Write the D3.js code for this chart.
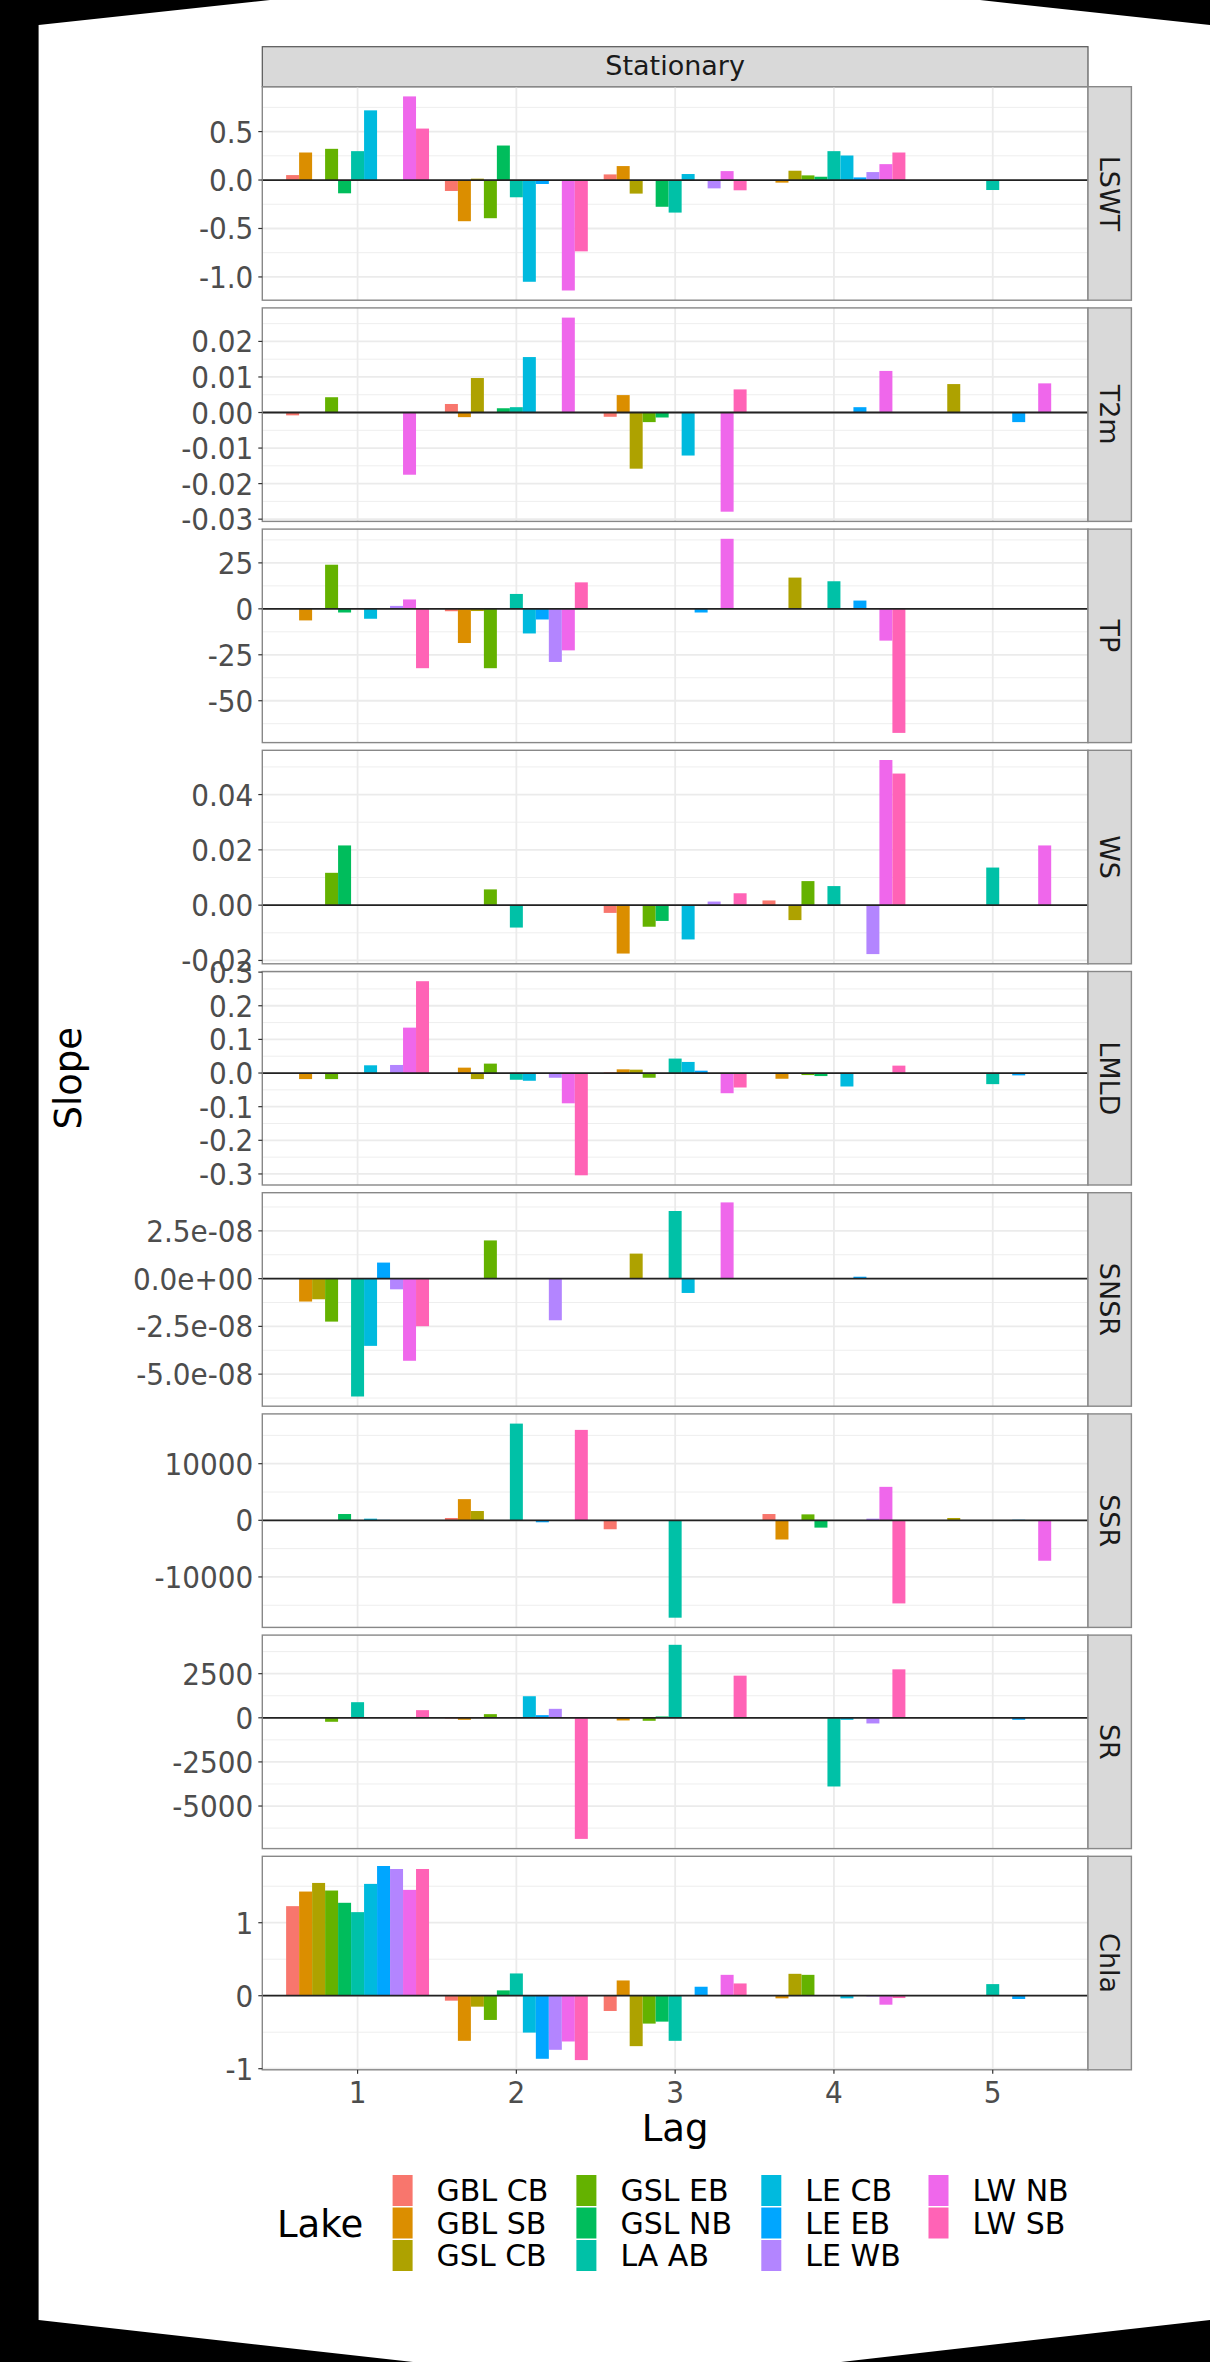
<!DOCTYPE html>
<html>
<head>
<meta charset="utf-8">
<script src="https://cdn.jsdelivr.net/npm/d3@7"></script>
<style>
  body { margin: 0; background: #000; }
  svg { display: block; }
</style>
</head>
<body>
<svg id="chart" width="1210" height="2362"></svg>
<script>
// lakes in legend / dodge order
const lakes = ['GBL CB', 'GBL SB', 'GSL CB', 'GSL EB', 'GSL NB', 'LA AB', 'LE CB', 'LE EB', 'LE WB', 'LW NB', 'LW SB']
const lakeColors = ['#F8766D', '#DB8E00', '#AEA200', '#64B200', '#00BD5C', '#00C1A7', '#00BADE', '#00A6FF', '#B385FF', '#EF67EB', '#FF63B6']
const lags = [1, 2, 3, 4, 5]
const variables = ['LSWT', 'T2m', 'TP', 'WS', 'LMLD', 'SNSR', 'SSR', 'SR', 'Chla']

// slopes: one row per lag, one value per lake
const lswt = [
  [0.051, 0.284, 0, 0.322, -0.137, 0.298, 0.719, 0, 0, 0.863, 0.531],
  [-0.113, -0.425, 0.014, -0.394, 0.356, -0.178, -1.05, -0.041, 0, -1.14, -0.736],
  [0.058, 0.144, -0.14, 0, -0.276, -0.336, 0.062, 0, -0.086, 0.092, -0.106],
  [-0.005, -0.027, 0.096, 0.048, 0.034, 0.298, 0.253, 0.027, 0.082, 0.164, 0.284],
  [0, 0, 0, 0, 0, -0.103, 0, 0, 0, 0, 0]
]
const t2m = [
  [-0.0008, 0, 0, 0.0043, 0, 0, 0, 0, 0, -0.0175, 0],
  [0.0024, -0.0013, 0.0097, 0, 0.0012, 0.0015, 0.0156, 0, 0, 0.0267, 0],
  [-0.0012, 0.0049, -0.0158, -0.0027, -0.0014, 0, -0.0121, 0, 0, -0.0279, 0.0065],
  [0, 0, 0, 0, 0, 0, 0, 0.0015, 0, 0.0117, 0],
  [0, 0, 0.008, 0, 0, 0, 0, -0.0027, 0, 0.0082, 0]
]
const tp = [
  [0, -6.3, 0, 24.0, -2.0, 0, -5.4, 0, 1.6, 5.1, -32.3],
  [-1.3, -18.6, -1.2, -32.3, 0, 8.1, -13.4, -5.8, -28.9, -22.6, 14.4],
  [0, 0, 0, 0, 0, 0, 0, -2.0, 0, 38.1, 0],
  [0, 0, 17.0, 0, 0, 15.0, 0, 4.5, 0, -17.3, -67.5],
  [0, 0, 0, 0, 0, 0, 0, 0, 0, 0, 0]
]
const ws = [
  [0, 0, 0, 0.0117, 0.0216, 0, 0, 0, 0, 0, 0],
  [0, 0, 0, 0.0057, 0, -0.0081, 0, 0, 0, 0, 0],
  [-0.0028, -0.0175, 0, -0.0078, -0.0057, 0, -0.0124, 0, 0.0013, 0, 0.0043],
  [0.0017, 0, -0.0054, 0.0087, 0, 0.0069, 0, 0, -0.0177, 0.0525, 0.0476],
  [0, 0, 0, 0, 0, 0.0136, 0, 0, 0, 0.0216, 0]
]
const lmld = [
  [0, -0.018, 0, -0.018, 0, 0, 0.023, 0, 0.024, 0.135, 0.273],
  [0, 0.016, -0.018, 0.028, 0, -0.02, -0.023, 0, -0.014, -0.09, -0.304],
  [0.002, 0.011, 0.01, -0.014, 0, 0.043, 0.033, 0.007, 0, -0.06, -0.043],
  [-0.002, -0.017, 0, -0.006, -0.009, 0, -0.04, 0, 0, 0, 0.022],
  [0, 0, 0, 0, 0, -0.033, 0, -0.007, 0, 0, 0]
]
const snsr = [
  [0, -1.2e-8, -1.08e-8, -2.25e-8, 0, -6.17e-8, -3.52e-8, 0.84e-8, -0.56e-8, -4.3e-8, -2.49e-8],
  [0, 0, 0, 2.0e-8, 0, 0, 0, 0, -2.18e-8, 0, 0],
  [0, 0, 1.31e-8, 0, 0, 3.54e-8, -0.75e-8, 0, 0, 3.99e-8, 0],
  [0, 0, 0, 0, 0, 0, 0, 0.1e-8, 0, 0, 0],
  [0, 0, 0, 0, 0, 0, 0, 0, 0, 0, 0]
]
const ssr = [
  [0, 0, 0, 0, 1110, 0, 290, 80, 0, 0, 0],
  [410, 3740, 1640, 0, 0, 17080, 0, -350, 0, 0, 15970],
  [-1580, 0, 0, 0, 0, -17200, 0, 0, 0, 0, 0],
  [1110, -3390, 0, 1050, -1290, 0, 0, 0, 290, 5910, -14680],
  [0, 0, 410, 0, 0, 0, 0, 100, 0, -7140, 0]
]
const sr = [
  [0, 0, 0, -226, 0, 884, 0, 0, 0, 0, 433],
  [-40, -113, 0, 207, 0, 0, 1222, 150, 508, 0, -6862],
  [0, -150, 0, -170, 75, 4136, 0, 20, 0, 0, 2388],
  [0, 0, 0, 0, 0, -3892, -113, 0, -320, 0, 2745],
  [0, 0, 0, 0, 0, 0, 0, -113, 0, 0, 0]
]
const chla = [
  [1.227, 1.427, 1.545, 1.441, 1.273, 1.145, 1.532, 1.777, 1.736, 1.45, 1.736],
  [-0.068, -0.618, -0.15, -0.332, 0.073, 0.305, -0.505, -0.864, -0.741, -0.627, -0.882],
  [-0.209, 0.209, -0.691, -0.382, -0.355, -0.618, 0, 0.123, 0, 0.286, 0.168],
  [0.01, -0.036, 0.3, 0.286, 0, 0, -0.036, 0, -0.01, -0.123, -0.032],
  [0, 0, 0, 0, 0, 0.159, 0, -0.045, 0, 0, 0]
]
const slopes = [lswt, t2m, tp, ws, lmld, snsr, ssr, sr, chla]

// y tick labels per panel (values parsed from the labels)
const yTicks = [
  ['0.5', '0.0', '-0.5', '-1.0'],
  ['0.02', '0.01', '0.00', '-0.01', '-0.02', '-0.03'],
  ['25', '0', '-25', '-50'],
  ['0.04', '0.02', '0.00', '-0.02'],
  ['0.3', '0.2', '0.1', '0.0', '-0.1', '-0.2', '-0.3'],
  ['2.5e-08', '0.0e+00', '-2.5e-08', '-5.0e-08'],
  ['10000', '0', '-10000'],
  ['2500', '0', '-2500', '-5000'],
  ['1', '0', '-1']
]

const svg = d3.select('#chart')
const W = 1210, H = 2362
const left = 262.3, right = 1088
const top0 = 86.7, panelH = 213.5, gap = 7.7
const stripTop = 46.7, stripW = 43.4
const fontTick = "'DejaVu Sans Condensed', 'DejaVu Sans', sans-serif"
const fontText = "'DejaVu Sans', sans-serif"

// black frame with the white, slightly skewed page
svg.append('rect').attr('width', W).attr('height', H).attr('fill', '#000')
svg.append('polygon')
  .attr('points', [[38.6, 25], [270, 0], [980, 0], [1210, 25], [1210, 2320], [841, 2362], [413, 2362], [38.6, 2320]].join(' '))
  .attr('fill', '#fff')

const x = d3.scaleLinear().domain([0.4, 5.6]).range([left, right])
const dodge = d3.scaleBand().domain(lakes).range([-0.45, 0.45])
const barW = x(dodge.bandwidth()) - x(0)

// top strip
svg.append('rect')
  .attr('x', left).attr('y', stripTop).attr('width', right - left).attr('height', top0 - stripTop)
  .attr('fill', '#D9D9D9').attr('stroke', '#555').attr('stroke-width', 1.2)
svg.append('text')
  .attr('x', (left + right) / 2).attr('y', 75)
  .attr('text-anchor', 'middle')
  .attr('font-family', fontText).attr('font-size', 27).attr('fill', '#1A1A1A')
  .text('Stationary')

variables.forEach((name, p) => {
  const data = slopes[p]
  const py = top0 + p * (panelH + gap)
  const all = data.flat().concat([0])
  const [lo, hi] = d3.extent(all)
  const pad = (hi - lo) * 0.05
  const y = d3.scaleLinear().domain([lo - pad, hi + pad]).range([py + panelH, py])
  const g = svg.append('g')

  const ticks = yTicks[p].map(s => +s)
  const step = Math.abs(ticks[0] - ticks[1])
  const minor = d3.range(d3.min(ticks) - step / 2, d3.max(ticks) + step, step)
    .filter(v => v >= y.domain()[0] && v <= y.domain()[1])

  g.selectAll('.minor').data(minor).join('line')
    .attr('x1', left).attr('x2', right)
    .attr('y1', d => y(d)).attr('y2', d => y(d))
    .attr('stroke', '#EEEEEE').attr('stroke-width', 1)
  g.selectAll('.major').data(ticks).join('line')
    .attr('x1', left).attr('x2', right)
    .attr('y1', d => y(d)).attr('y2', d => y(d))
    .attr('stroke', '#EBEBEB').attr('stroke-width', 1.8)
  g.selectAll('.vgrid').data(lags).join('line')
    .attr('x1', d => x(d)).attr('x2', d => x(d))
    .attr('y1', py).attr('y2', py + panelH)
    .attr('stroke', '#EBEBEB').attr('stroke-width', 1.8)

  // bars
  const bars = []
  data.forEach((row, li) => row.forEach((v, k) => bars.push({ lag: lags[li], lake: lakes[k], k, v })))
  g.selectAll('.bar').data(bars.filter(d => d.v !== 0)).join('rect')
    .attr('x', d => x(d.lag + dodge(d.lake)))
    .attr('width', barW)
    .attr('y', d => y(Math.max(0, d.v)))
    .attr('height', d => Math.abs(y(d.v) - y(0)))
    .attr('fill', d => lakeColors[d.k])

  // zero line
  g.append('line')
    .attr('x1', left).attr('x2', right).attr('y1', y(0)).attr('y2', y(0))
    .attr('stroke', '#222').attr('stroke-width', 1.8)

  // panel border
  g.append('rect')
    .attr('x', left).attr('y', py).attr('width', right - left).attr('height', panelH)
    .attr('fill', 'none').attr('stroke', '#888').attr('stroke-width', 1.4)

  // y axis
  g.selectAll('.tick').data(ticks).join('line')
    .attr('x1', left - 4).attr('x2', left)
    .attr('y1', d => y(d)).attr('y2', d => y(d))
    .attr('stroke', '#333').attr('stroke-width', 1.2)
  g.selectAll('.tlab').data(yTicks[p]).join('text')
    .attr('x', left - 9).attr('y', d => y(+d))
    .attr('text-anchor', 'end').attr('dominant-baseline', 'central')
    .attr('font-family', fontTick).attr('font-size', 31).attr('fill', '#4D4D4D')
    .text(d => d)

  // right strip
  g.append('rect')
    .attr('x', right).attr('y', py).attr('width', stripW).attr('height', panelH)
    .attr('fill', '#D9D9D9').attr('stroke', '#888').attr('stroke-width', 1.4)
  g.append('text')
    .attr('transform', `translate(${right + stripW / 2},${py + panelH / 2}) rotate(90)`)
    .attr('text-anchor', 'middle').attr('dominant-baseline', 'central')
    .attr('font-family', fontText).attr('font-size', 27).attr('fill', '#1A1A1A')
    .text(name)

  // x axis under last panel
  if (p === variables.length - 1) {
    g.selectAll('.xtick').data(lags).join('line')
      .attr('x1', d => x(d)).attr('x2', d => x(d))
      .attr('y1', py + panelH).attr('y2', py + panelH + 4)
      .attr('stroke', '#333').attr('stroke-width', 1.2)
    g.selectAll('.xlab').data(lags).join('text')
      .attr('x', d => x(d)).attr('y', py + panelH + 33)
      .attr('text-anchor', 'middle')
      .attr('font-family', fontTick).attr('font-size', 31).attr('fill', '#4D4D4D')
      .text(d => d)
  }
})

// axis titles
svg.append('text')
  .attr('x', (left + right) / 2).attr('y', 2141)
  .attr('text-anchor', 'middle')
  .attr('font-family', fontText).attr('font-size', 37).attr('fill', '#000')
  .text('Lag')
svg.append('text')
  .attr('transform', `translate(81,${(top0 + 8 * (panelH + gap) + panelH + top0) / 2}) rotate(-90)`)
  .attr('text-anchor', 'middle')
  .attr('font-family', fontText).attr('font-size', 37).attr('fill', '#000')
  .text('Slope')

// legend
const legX = [392.6, 576.4, 761.3, 928.5]
const legRowY = [2190.5, 2223, 2255.5]
svg.append('text')
  .attr('x', 277).attr('y', 2236.5)
  .attr('font-family', fontText).attr('font-size', 37).attr('fill', '#000')
  .text('Lake')
const leg = svg.selectAll('.leg').data(lakes).join('g')
  .attr('transform', (d, i) => `translate(${legX[Math.floor(i / 3)]},${legRowY[i % 3]})`)
leg.append('rect')
  .attr('x', 0).attr('y', -15.5).attr('width', 20).attr('height', 31)
  .attr('fill', (d, i) => lakeColors[i])
leg.append('text')
  .attr('x', 44).attr('y', 10.9)
  .attr('font-family', fontText).attr('font-size', 30).attr('fill', '#000')
  .text(d => d)
</script>
</body>
</html>
